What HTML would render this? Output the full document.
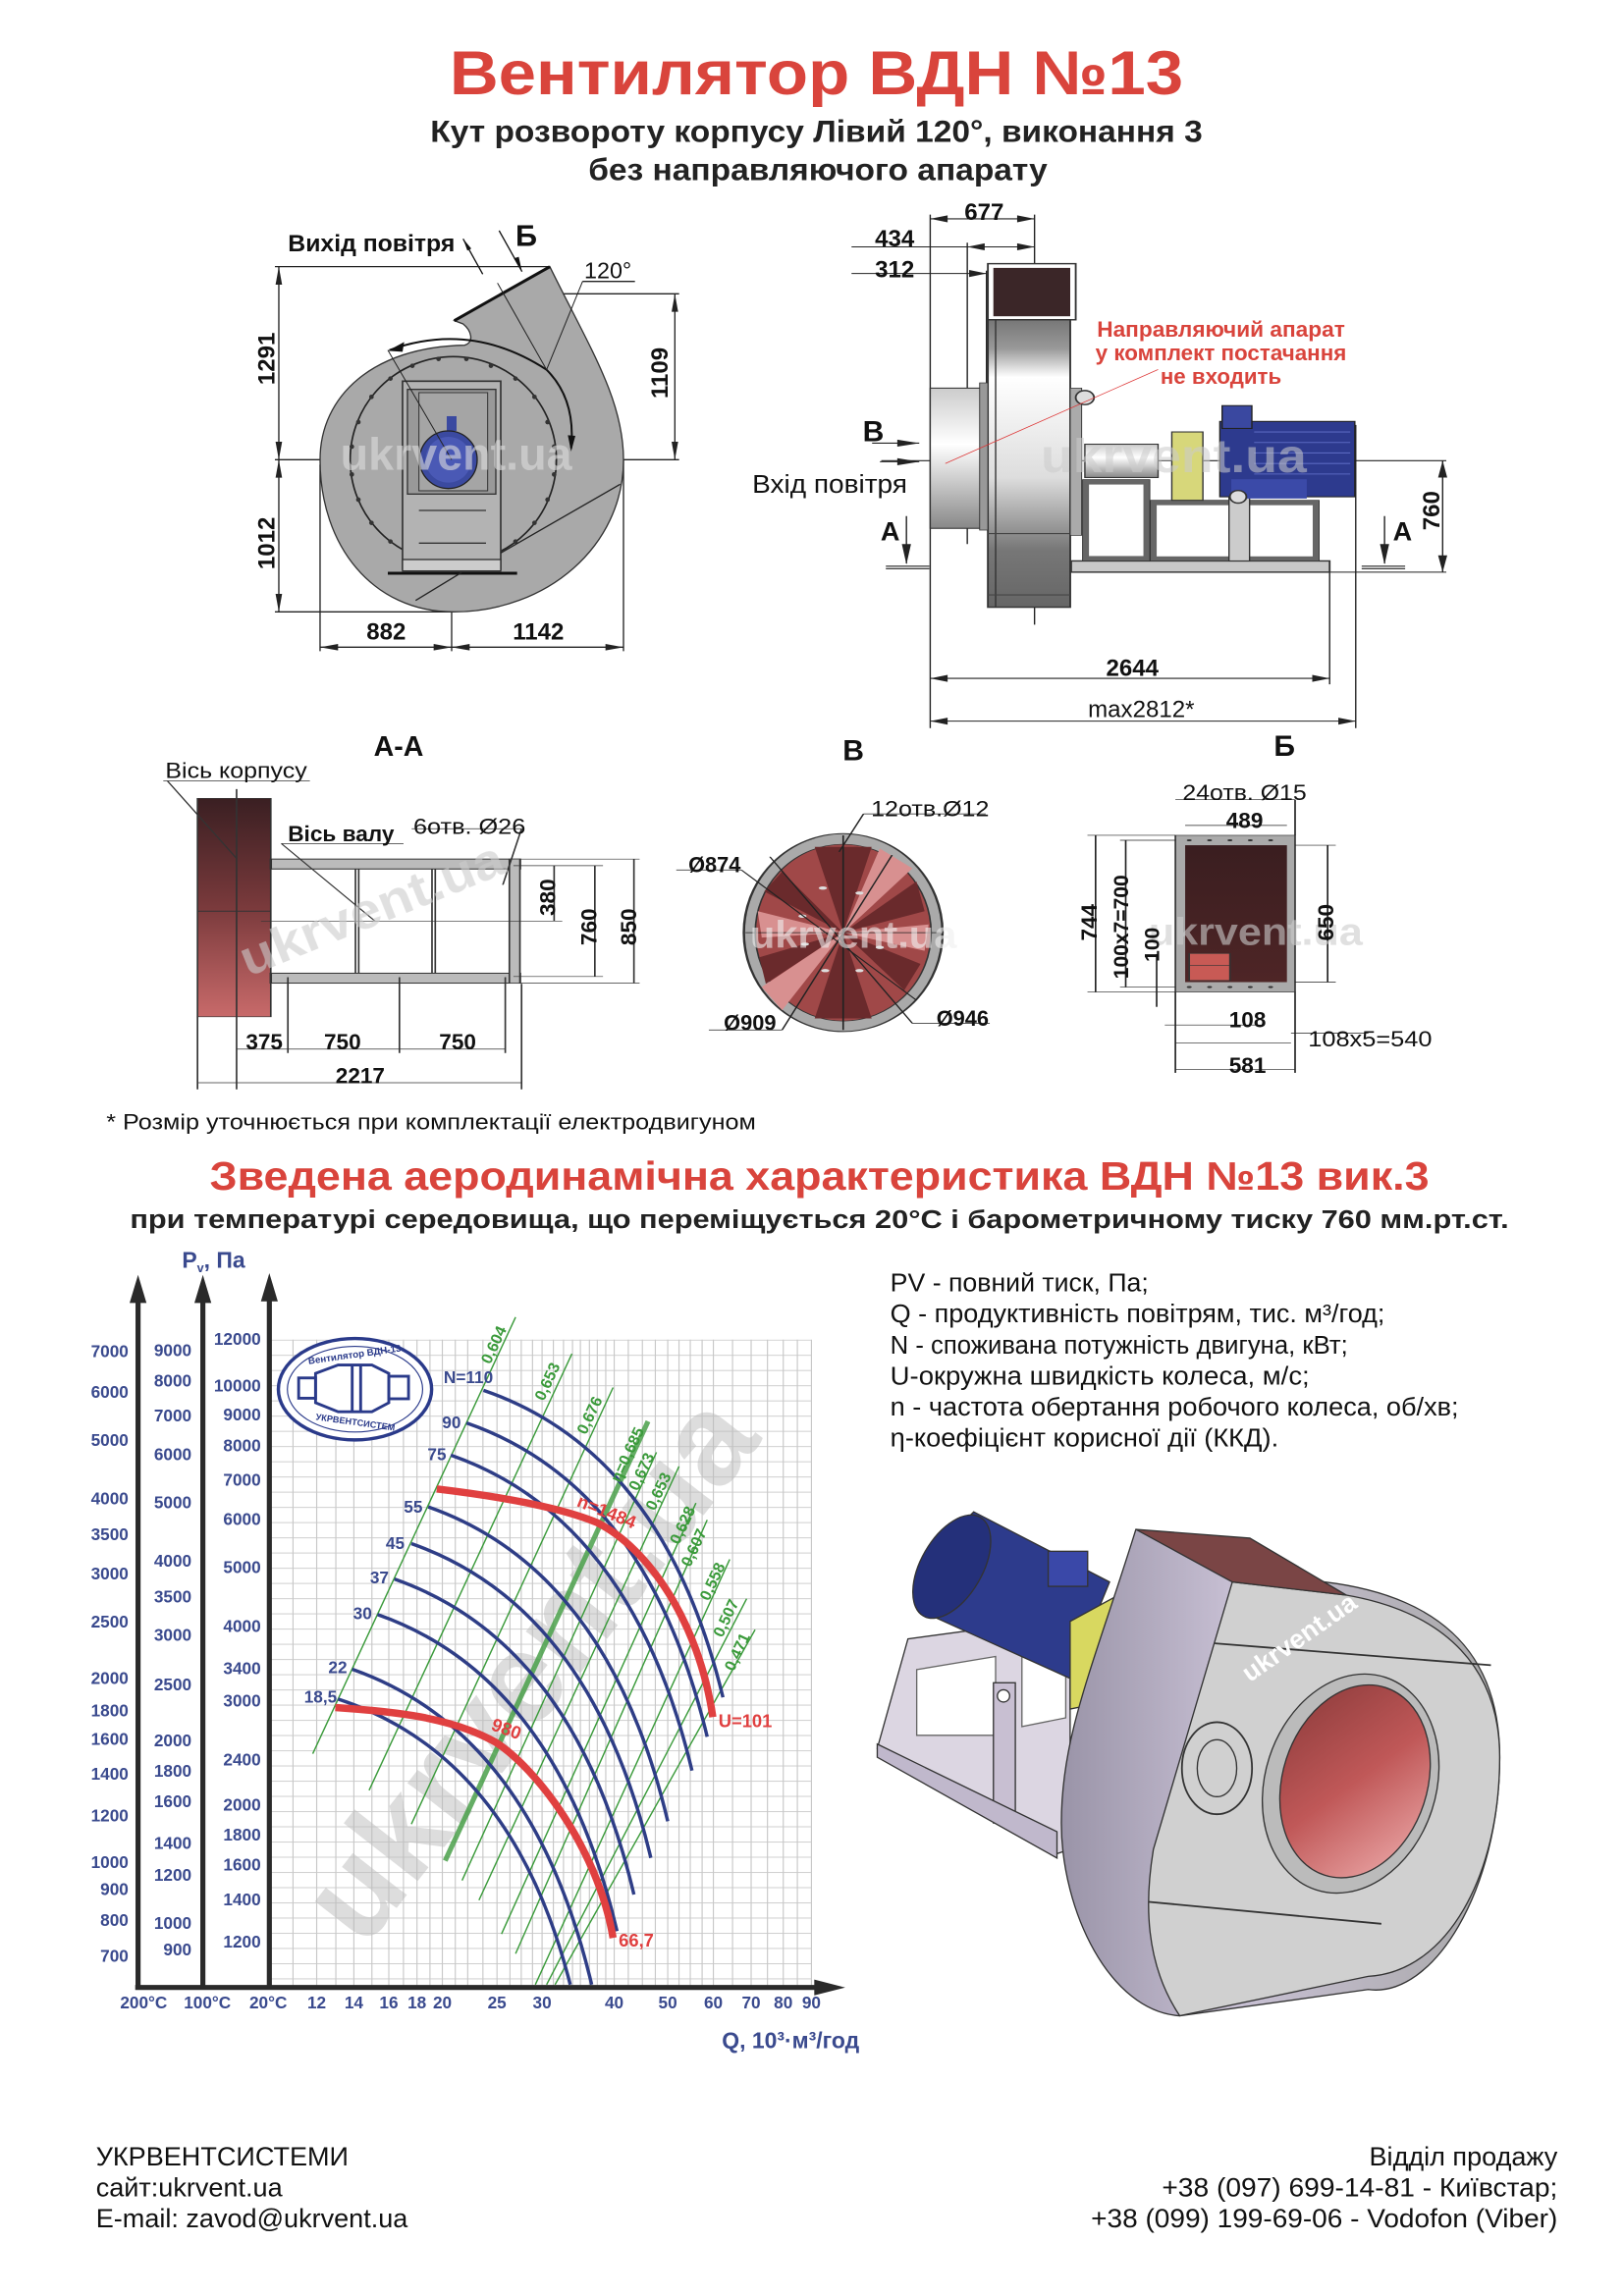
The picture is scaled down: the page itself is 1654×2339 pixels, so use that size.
<!DOCTYPE html>
<html><head><meta charset="utf-8"><style>
html,body{margin:0;padding:0;background:#fff}
svg{display:block}
text{font-family:"Liberation Sans Narrow","Liberation Sans",sans-serif}
.b{font-weight:bold}
.w{font-family:"Liberation Sans",sans-serif}
</style></head><body>
<svg width="1654" height="2339" viewBox="0 0 1100 1555.6" preserveAspectRatio="none" xmlns="http://www.w3.org/2000/svg">
<defs>
<linearGradient id="gBody" x1="0" y1="0" x2="0" y2="1"><stop offset="0" stop-color="#777"/><stop offset="0.1" stop-color="#999"/><stop offset="0.2" stop-color="#fff"/><stop offset="0.55" stop-color="#ddd"/><stop offset="0.8" stop-color="#777"/><stop offset="1" stop-color="#666"/></linearGradient>
<linearGradient id="gInlet" x1="0" y1="0" x2="0" y2="1"><stop offset="0" stop-color="#ccc"/><stop offset="0.4" stop-color="#fff"/><stop offset="1" stop-color="#888"/></linearGradient>
<linearGradient id="gRed" x1="0" y1="0" x2="0" y2="1"><stop offset="0" stop-color="#3a1f22"/><stop offset="0.5" stop-color="#7a3a3c"/><stop offset="1" stop-color="#c86a6a"/></linearGradient>
<linearGradient id="gDark" x1="0" y1="0" x2="0" y2="1"><stop offset="0" stop-color="#3a1e20"/><stop offset="1" stop-color="#4e2526"/></linearGradient>
<linearGradient id="gInner" x1="0" y1="0" x2="1" y2="1"><stop offset="0" stop-color="#8a3a3a"/><stop offset="0.5" stop-color="#c05858"/><stop offset="1" stop-color="#f0b0b0"/></linearGradient>
<linearGradient id="gSide" x1="0" y1="0" x2="1" y2="0"><stop offset="0" stop-color="#9a94a8"/><stop offset="0.4" stop-color="#c8c0d4"/><stop offset="1" stop-color="#a8a8a8"/></linearGradient>
</defs>

<!-- Titles -->
<text x="553" y="64" text-anchor="middle" class="b w" font-size="42" fill="#d9443c" textLength="497" lengthAdjust="spacingAndGlyphs">Вентилятор  ВДН №13</text>
<text x="553" y="96" text-anchor="middle" class="b" font-size="21" fill="#222" textLength="523" lengthAdjust="spacingAndGlyphs">Кут розвороту корпусу Лівий 120°, виконання 3</text>
<text x="554" y="122" text-anchor="middle" class="b" font-size="21" fill="#222" textLength="311" lengthAdjust="spacingAndGlyphs">без направляючого апарату</text>

<!-- Top-left front view (zoom5 coords) -->
<g transform="translate(186.2,146.3) scale(0.2217)">
<g stroke="#222" stroke-width="4" fill="none">
<line x1="0" y1="155" x2="840" y2="155"/>
<line x1="0" y1="745" x2="1235" y2="745"/>
<line x1="0" y1="1210" x2="545" y2="1210"/>
<line x1="845" y1="238" x2="1235" y2="238"/>
<line x1="12" y1="155" x2="12" y2="1210"/>
<line x1="1222" y1="238" x2="1222" y2="745"/>
<line x1="138" y1="760" x2="138" y2="1330"/>
<line x1="540" y1="400" x2="540" y2="1330"/>
<line x1="1065" y1="745" x2="1065" y2="1330"/>
<line x1="138" y1="1318" x2="1065" y2="1318"/>
<line x1="940" y1="200" x2="1100" y2="200"/>
</g>
<g fill="#222">
<polygon points="12,155 2,210 22,210"/><polygon points="12,745 2,690 22,690"/>
<polygon points="12,745 2,800 22,800"/><polygon points="12,1210 2,1155 22,1155"/>
<polygon points="1222,238 1212,293 1232,293"/><polygon points="1222,745 1212,690 1232,690"/>
<polygon points="138,1318 193,1308 193,1328"/><polygon points="540,1318 485,1308 485,1328"/>
<polygon points="540,1318 595,1308 595,1328"/><polygon points="1065,1318 1010,1308 1010,1328"/>
</g>
<path d="M548,320 L840,155 C960,400 1065,560 1065,745 C1065,1010 830,1210 545,1210 C300,1210 138,1010 138,745 C138,550 300,400 580,395 C610,385 600,350 575,330 Z" fill="#a9a9a9" stroke="#333" stroke-width="4"/>
<line x1="548" y1="320" x2="840" y2="155" stroke="#111" stroke-width="9"/>
<circle cx="545" cy="745" r="315" fill="none" stroke="#222" stroke-width="5"/>
<g fill="#333"><circle cx="500" cy="437" r="7"/><circle cx="585" cy="437" r="7"/><circle cx="660" cy="458" r="7"/><circle cx="735" cy="497" r="7"/><circle cx="793" cy="553" r="7"/><circle cx="833" cy="630" r="7"/><circle cx="853" cy="705" r="7"/><circle cx="853" cy="790" r="7"/><circle cx="833" cy="867" r="7"/><circle cx="793" cy="938" r="7"/><circle cx="735" cy="995" r="7"/><circle cx="420" cy="458" r="7"/><circle cx="353" cy="497" r="7"/><circle cx="295" cy="553" r="7"/><circle cx="255" cy="630" r="7"/><circle cx="235" cy="705" r="7"/><circle cx="235" cy="790" r="7"/><circle cx="255" cy="867" r="7"/><circle cx="295" cy="938" r="7"/><circle cx="353" cy="995" r="7"/></g>
<path d="M350,410 Q600,320 830,470 Q920,560 905,710" fill="none" stroke="#111" stroke-width="6"/>
<polygon points="345,412 395,385 390,415" fill="#111"/><polygon points="905,720 895,670 918,672" fill="#111"/>
<rect x="390" y="505" width="300" height="575" fill="#b3b3b3" stroke="#333" stroke-width="5"/>
<rect x="405" y="530" width="270" height="320" fill="#999" stroke="#333" stroke-width="4"/>
<rect x="440" y="540" width="210" height="300" fill="#a5a5a5" stroke="#333" stroke-width="3"/>
<line x1="440" y1="900" x2="645" y2="900" stroke="#333" stroke-width="4"/><line x1="440" y1="1000" x2="645" y2="1000" stroke="#333" stroke-width="4"/>
<rect x="525" y="612" width="30" height="45" fill="#3a49a0"/>
<circle cx="530" cy="745" r="88" fill="#3b4aa0" stroke="#222" stroke-width="4"/>
<circle cx="530" cy="745" r="70" fill="#4a59b5"/>
<rect x="390" y="1050" width="300" height="35" fill="#ccc" stroke="#333" stroke-width="4"/>
<line x1="345" y1="1092" x2="740" y2="1092" stroke="#111" stroke-width="9"/>
<line x1="430" y1="1175" x2="570" y2="1090" stroke="#222" stroke-width="4"/>
<line x1="690" y1="1030" x2="1055" y2="820" stroke="#222" stroke-width="4"/>
<line x1="345" y1="410" x2="540" y2="745" stroke="#222" stroke-width="3"/>
<line x1="680" y1="205" x2="830" y2="470" stroke="#222" stroke-width="3"/>
<line x1="830" y1="470" x2="940" y2="200" stroke="#222" stroke-width="3"/>
<line x1="575" y1="70" x2="635" y2="178" stroke="#111" stroke-width="4"/><polygon points="575,70 600,100 588,106" fill="#111"/>
<line x1="685" y1="45" x2="755" y2="170" stroke="#111" stroke-width="4"/><polygon points="755,170 730,130 745,125" fill="#111"/>
<text x="200" y="775" font-size="140" class="b w" fill="#ddd" opacity="0.6">ukrvent.ua</text>
<text x="40" y="108" font-size="72" class="b w" fill="#111" textLength="510" lengthAdjust="spacingAndGlyphs">Вихід повітря</text>
<text x="735" y="92" font-size="92" class="b w" fill="#111">Б</text>
<text x="945" y="190" font-size="70" class="w" fill="#111">120°</text>
<text x="340" y="1295" font-size="72" class="b w" fill="#111" text-anchor="middle">882</text>
<text x="805" y="1295" font-size="72" class="b w" fill="#111" text-anchor="middle">1142</text>
<text transform="translate(1200,480) rotate(-90)" font-size="72" class="b w" fill="#111" text-anchor="middle">1109</text>
</g>
<text transform="translate(186,243) rotate(-90)" font-size="16" class="b w" fill="#111" text-anchor="middle">1291</text>
<text transform="translate(186,368) rotate(-90)" font-size="16" class="b w" fill="#111" text-anchor="middle">1012</text>

<!-- Top-right side view (zoom6 coords, non-uniform) -->
<g transform="translate(505.5,126.4) scale(0.3099,0.2375)">
<g stroke="#222" stroke-width="3" fill="none">
<line x1="402" y1="80" x2="402" y2="1545"/><line x1="630" y1="80" x2="630" y2="1250"/>
<line x1="483" y1="160" x2="483" y2="1020"/><line x1="525" y1="240" x2="525" y2="980"/>
<line x1="402" y1="92" x2="630" y2="92"/><line x1="230" y1="172" x2="630" y2="172"/><line x1="230" y1="248" x2="525" y2="248"/>
<line x1="1275" y1="1100" x2="1275" y2="1420"/><line x1="1332" y1="680" x2="1332" y2="1545"/>
<line x1="402" y1="1403" x2="1275" y2="1403"/><line x1="402" y1="1525" x2="1332" y2="1525"/>
<line x1="295" y1="782" x2="1530" y2="782"/><line x1="1275" y1="1100" x2="1530" y2="1100"/>
<line x1="1522" y1="782" x2="1522" y2="1100"/>
<line x1="305" y1="1083" x2="400" y2="1083"/><line x1="305" y1="1090" x2="400" y2="1090"/>
<line x1="1345" y1="1083" x2="1440" y2="1083"/><line x1="1345" y1="1090" x2="1440" y2="1090"/>
<line x1="350" y1="940" x2="350" y2="1075"/><line x1="1395" y1="940" x2="1395" y2="1075"/>
<line x1="275" y1="732" x2="378" y2="732"/><line x1="292" y1="785" x2="378" y2="785"/>
</g>
<g fill="#222">
<polygon points="402,92 440,82 440,102"/><polygon points="630,92 592,82 592,102"/>
<polygon points="483,172 521,162 521,182"/><polygon points="630,172 592,162 592,182"/>
<polygon points="525,248 487,238 487,258"/>
<polygon points="402,1403 440,1393 440,1413"/><polygon points="1275,1403 1237,1393 1237,1413"/>
<polygon points="402,1525 440,1515 440,1535"/><polygon points="1332,1525 1294,1515 1294,1535"/>
<polygon points="1522,782 1512,830 1532,830"/><polygon points="1522,1100 1512,1052 1532,1052"/>
<polygon points="350,1078 340,1020 360,1020"/><polygon points="1395,1078 1385,1020 1405,1020"/>
<polygon points="378,732 330,722 330,742"/><polygon points="378,785 330,775 330,795"/>
</g>
<rect x="528" y="220" width="192" height="160" fill="#fff" stroke="#333" stroke-width="4"/>
<rect x="540" y="232" width="168" height="138" fill="#3b2628"/>
<rect x="528" y="380" width="180" height="820" fill="url(#gBody)" stroke="#333" stroke-width="4"/>
<line x1="545" y1="380" x2="545" y2="1200" stroke="#333" stroke-width="3"/>
<line x1="528" y1="990" x2="708" y2="990" stroke="#444" stroke-width="3"/><line x1="528" y1="1165" x2="708" y2="1165" stroke="#444" stroke-width="3"/>
<rect x="402" y="575" width="118" height="400" fill="url(#gInlet)" stroke="#333" stroke-width="3"/>
<rect x="510" y="560" width="18" height="420" fill="#999" stroke="#333" stroke-width="2"/>
<rect x="708" y="575" width="25" height="420" fill="#aaa" stroke="#333" stroke-width="2"/>
<circle cx="740" cy="602" r="20" fill="#ddd" stroke="#333" stroke-width="4"/>
<rect x="710" y="1068" width="565" height="32" fill="#c8c8c8" stroke="#333" stroke-width="4"/>
<g fill="none" stroke="#666" stroke-width="14">
<rect x="742" y="843" width="133" height="218"/>
<rect x="890" y="902" width="355" height="160"/>
</g>
<g fill="none" stroke="#333" stroke-width="2">
<rect x="735" y="836" width="147" height="232"/><rect x="883" y="895" width="369" height="173"/>
</g>
<rect x="1055" y="880" width="45" height="188" fill="#ccc" stroke="#333" stroke-width="3"/>
<rect x="740" y="735" width="160" height="95" fill="url(#gInlet)" stroke="#333" stroke-width="3"/>
<rect x="930" y="700" width="68" height="195" fill="#d7d77a" stroke="#333" stroke-width="3"/>
<rect x="1035" y="670" width="295" height="215" fill="#2d3a8e" stroke="#222" stroke-width="3"/>
<rect x="1040" y="625" width="65" height="65" fill="#3a48a0" stroke="#222" stroke-width="3"/>
<rect x="1060" y="835" width="165" height="55" fill="#3b4aa8"/>
<g stroke="#5a68c0" stroke-width="3"><line x1="1110" y1="700" x2="1320" y2="700"/><line x1="1110" y1="730" x2="1320" y2="730"/><line x1="1110" y1="760" x2="1320" y2="760"/><line x1="1110" y1="790" x2="1320" y2="790"/><line x1="1110" y1="820" x2="1320" y2="820"/></g>
<circle cx="1075" cy="885" r="18" fill="#ddd" stroke="#333" stroke-width="4"/>
<line x1="435" y1="790" x2="900" y2="522" stroke="#d33" stroke-width="2"/>
</g>
<text x="705" y="320" font-size="32" class="b w" fill="#ccc" opacity="0.55" textLength="180" lengthAdjust="spacingAndGlyphs">ukrvent.ua</text>
<g class="b" fill="#111">
<text x="666.6" y="149" font-size="16" text-anchor="middle">677</text>
<text x="606" y="167" font-size="16" text-anchor="middle">434</text>
<text x="606" y="188" font-size="16" text-anchor="middle">312</text>
<text x="591.6" y="299" font-size="20" text-anchor="middle" class="w">В</text>
<text x="562" y="334" font-size="17" text-anchor="middle" font-weight="normal" class="w" textLength="105" lengthAdjust="spacingAndGlyphs">Вхід повітря</text>
<text x="603" y="366" font-size="18" text-anchor="middle" class="w">А</text>
<text x="950" y="366" font-size="18" text-anchor="middle" class="w">А</text>
<text transform="translate(975,346) rotate(-90)" font-size="16" text-anchor="middle" class="w">760</text>
<text x="767" y="458" font-size="16" text-anchor="middle">2644</text>
<text x="773" y="486" font-size="16" text-anchor="middle" font-weight="normal">max2812*</text>
</g>
<g class="b" fill="#d9443c" font-size="14.5" text-anchor="middle">
<text x="827" y="228" textLength="168" lengthAdjust="spacingAndGlyphs">Направляючий апарат</text>
<text x="827" y="244" textLength="170" lengthAdjust="spacingAndGlyphs">у комплект постачання</text>
<text x="827" y="260" textLength="82" lengthAdjust="spacingAndGlyphs">не входить</text>
</g>

<!-- Sections row (zoom3 coords, non-uniform) -->
<g transform="translate(66.5,492.2) scale(0.5515,0.2235)">
<rect x="122" y="218" width="90" height="662" fill="url(#gRed)" stroke="#333" stroke-width="2"/>
<line x1="122" y1="560" x2="212" y2="560" stroke="#333" stroke-width="3"/>
<rect x="212" y="432" width="298" height="316" fill="#fff" stroke="#333" stroke-width="2"/>
<rect x="212" y="402" width="306" height="30" fill="#bbb" stroke="#333" stroke-width="3"/>
<rect x="212" y="748" width="306" height="30" fill="#bbb" stroke="#333" stroke-width="3"/>
<rect x="505" y="402" width="13" height="376" fill="#bbb" stroke="#333" stroke-width="2"/>
<g stroke="#333" stroke-width="2"><line x1="316" y1="432" x2="316" y2="748"/><line x1="320" y1="432" x2="320" y2="748"/><line x1="410" y1="432" x2="410" y2="748"/><line x1="414" y1="432" x2="414" y2="748"/>
<line x1="170" y1="190" x2="170" y2="1100"/><line x1="122" y1="880" x2="122" y2="1100"/><line x1="233" y1="760" x2="233" y2="990"/><line x1="370" y1="760" x2="370" y2="990"/><line x1="500" y1="760" x2="500" y2="990"/><line x1="520" y1="780" x2="520" y2="1100"/>
<line x1="170" y1="978" x2="500" y2="978"/><line x1="122" y1="1080" x2="520" y2="1080"/>
<line x1="518" y1="402" x2="665" y2="402"/><line x1="510" y1="422" x2="620" y2="422"/><line x1="510" y1="758" x2="620" y2="758"/><line x1="518" y1="778" x2="665" y2="778"/><line x1="200" y1="590" x2="570" y2="590"/>
<line x1="560" y1="422" x2="560" y2="590"/><line x1="610" y1="422" x2="610" y2="758"/><line x1="658" y1="402" x2="658" y2="778"/>
<line x1="80" y1="165" x2="260" y2="165"/><line x1="85" y1="165" x2="170" y2="400"/>
<line x1="225" y1="355" x2="375" y2="355"/><line x1="225" y1="355" x2="340" y2="590"/>
<line x1="385" y1="310" x2="520" y2="310"/><line x1="520" y1="310" x2="497" y2="480"/>
</g>
<!-- В -->
<ellipse cx="915" cy="625" rx="122" ry="300" fill="#aaa" stroke="#333" stroke-width="3"/>
<ellipse cx="915" cy="625" rx="108" ry="268" fill="#a04848" stroke="#333" stroke-width="2"/>
<g fill="#6a2a2c">
<path d="M915,625 L880,365 L950,365 Z"/><path d="M915,625 L1005,470 L1015,560 Z"/><path d="M915,625 L1010,720 L990,800 Z"/><path d="M915,625 L950,885 L880,885 Z"/><path d="M915,625 L820,780 L812,700 Z"/><path d="M915,625 L818,500 L840,440 Z"/>
</g>
<g fill="#d89090"><path d="M915,625 L960,370 L1000,430 Z"/><path d="M915,625 L1020,600 L1015,680 Z"/><path d="M915,625 L840,860 L815,790 Z"/><path d="M915,625 L810,560 L815,640 Z"/></g>
<g fill="#ddd"><circle cx="890" cy="490" r="5"/><circle cx="935" cy="505" r="5"/><circle cx="865" cy="575" r="5"/><circle cx="960" cy="670" r="5"/><circle cx="893" cy="740" r="5"/><circle cx="935" cy="740" r="5"/><circle cx="868" cy="660" r="5"/></g>
<g stroke="#222" stroke-width="2"><line x1="915" y1="330" x2="915" y2="920"/><line x1="795" y1="625" x2="1035" y2="625"/>
<line x1="940" y1="265" x2="1090" y2="265"/><line x1="940" y1="265" x2="910" y2="380"/>
<line x1="710" y1="435" x2="790" y2="435"/><line x1="790" y1="435" x2="1005" y2="830"/>
<line x1="750" y1="920" x2="840" y2="920"/><line x1="840" y1="920" x2="975" y2="390"/>
<line x1="1000" y1="900" x2="1095" y2="900"/><line x1="1000" y1="900" x2="825" y2="395"/></g>
<!-- Б -->
<rect x="1323" y="330" width="147" height="475" fill="#aaa" stroke="#333" stroke-width="2"/>
<rect x="1335" y="360" width="125" height="415" fill="url(#gDark)"/>
<rect x="1340" y="688" width="50" height="82" fill="#c85a55" stroke="#333" stroke-width="2"/>
<line x1="1340" y1="725" x2="1390" y2="725" stroke="#333" stroke-width="2"/>
<g fill="#333"><circle cx="1340" cy="345" r="3"/><circle cx="1365" cy="345" r="3"/><circle cx="1390" cy="345" r="3"/><circle cx="1415" cy="345" r="3"/><circle cx="1440" cy="345" r="3"/><circle cx="1340" cy="790" r="3"/><circle cx="1365" cy="790" r="3"/><circle cx="1390" cy="790" r="3"/><circle cx="1415" cy="790" r="3"/><circle cx="1440" cy="790" r="3"/></g>
<g stroke="#222" stroke-width="2"><line x1="1225" y1="330" x2="1225" y2="805"/><line x1="1262" y1="345" x2="1262" y2="790"/><line x1="1300" y1="690" x2="1300" y2="850"/><line x1="1510" y1="360" x2="1510" y2="775"/>
<line x1="1215" y1="330" x2="1323" y2="330"/><line x1="1215" y1="805" x2="1323" y2="805"/><line x1="1255" y1="345" x2="1323" y2="345"/><line x1="1255" y1="790" x2="1323" y2="790"/><line x1="1470" y1="360" x2="1520" y2="360"/><line x1="1470" y1="775" x2="1520" y2="775"/>
<line x1="1310" y1="905" x2="1430" y2="905"/><line x1="1323" y1="960" x2="1465" y2="960"/><line x1="1323" y1="1040" x2="1470" y2="1040"/><line x1="1323" y1="222" x2="1470" y2="222"/><line x1="1335" y1="300" x2="1460" y2="300"/>
<line x1="1323" y1="805" x2="1323" y2="1050"/><line x1="1470" y1="805" x2="1470" y2="1050"/><line x1="1470" y1="222" x2="1470" y2="330"/><line x1="1465" y1="930" x2="1560" y2="930"/></g>
</g>
<g class="b w" fill="#ccc" opacity="0.6">
<text x="0" y="0" font-size="34" transform="translate(168,662) rotate(-22)" textLength="190" lengthAdjust="spacingAndGlyphs">ukrvent.ua</text>
<text x="508" y="642" font-size="26" textLength="140" lengthAdjust="spacingAndGlyphs" fill="#eee">ukrvent.ua</text>
<text x="778" y="640" font-size="26" textLength="145" lengthAdjust="spacingAndGlyphs">ukrvent.ua</text>
</g>
<g class="b" fill="#111">
<text x="270" y="512" font-size="19" text-anchor="middle" class="w">А-А</text>
<text x="578" y="515" font-size="20" text-anchor="middle" class="w">В</text>
<text x="870" y="512" font-size="20" text-anchor="middle" class="w">Б</text>
<text x="160" y="527" font-size="14.5" text-anchor="middle" font-weight="normal" textLength="96" lengthAdjust="spacingAndGlyphs">Вісь корпусу</text>
<text x="231" y="570" font-size="15" text-anchor="middle" textLength="72" lengthAdjust="spacingAndGlyphs">Вісь валу</text>
<text x="318" y="565" font-size="15" text-anchor="middle" font-weight="normal" textLength="76" lengthAdjust="spacingAndGlyphs">6отв. Ø26</text>
<text transform="translate(376,608) rotate(-90)" font-size="15" text-anchor="middle" class="w">380</text>
<text transform="translate(404,628) rotate(-90)" font-size="15" text-anchor="middle" class="w">760</text>
<text transform="translate(431,628) rotate(-90)" font-size="15" text-anchor="middle" class="w">850</text>
<text x="179" y="711" font-size="15" text-anchor="middle">375</text>
<text x="232" y="711" font-size="15" text-anchor="middle">750</text>
<text x="310" y="711" font-size="15" text-anchor="middle">750</text>
<text x="244" y="734" font-size="15" text-anchor="middle">2217</text>
<text x="630" y="553" font-size="14.5" text-anchor="middle" font-weight="normal" textLength="80" lengthAdjust="spacingAndGlyphs">12отв.Ø12</text>
<text x="484" y="591" font-size="14.5" text-anchor="middle">Ø874</text>
<text x="508" y="698" font-size="14.5" text-anchor="middle">Ø909</text>
<text x="652" y="695" font-size="14.5" text-anchor="middle">Ø946</text>
<text x="843" y="542" font-size="14.5" text-anchor="middle" font-weight="normal" textLength="84" lengthAdjust="spacingAndGlyphs">24отв. Ø15</text>
<text x="843" y="561" font-size="15" text-anchor="middle">489</text>
<text transform="translate(743,625) rotate(-90)" font-size="15" text-anchor="middle" class="w">744</text>
<text transform="translate(764,628) rotate(-90)" font-size="14" text-anchor="middle" class="w">100x7=700</text>
<text transform="translate(785,640) rotate(-90)" font-size="14" text-anchor="middle" class="w">100</text>
<text transform="translate(903,625) rotate(-90)" font-size="15" text-anchor="middle" class="w">650</text>
<text x="845" y="696" font-size="15" text-anchor="middle">108</text>
<text x="886" y="709" font-size="15" font-weight="normal" textLength="84" lengthAdjust="spacingAndGlyphs">108x5=540</text>
<text x="845" y="727" font-size="15" text-anchor="middle">581</text>
</g>
<text x="72" y="765" font-size="15" fill="#111" textLength="440" lengthAdjust="spacingAndGlyphs">* Розмір уточнюється при комплектації електродвигуном</text>

<!-- Chart headings -->
<text x="555" y="806" text-anchor="middle" class="b w" font-size="27" fill="#d9443c" textLength="826" lengthAdjust="spacingAndGlyphs">Зведена аеродинамічна характеристика ВДН №13 вик.3</text>
<text x="555" y="832" text-anchor="middle" class="b w" font-size="17" fill="#222" textLength="934" lengthAdjust="spacingAndGlyphs">при температурі середовища, що переміщується 20°С і барометричному тиску 760 мм.рт.ст.</text>

<!-- Chart (zoom2 coords) -->
<g transform="translate(0,831.3) scale(0.38168)">
<defs><pattern id="hg" x="0" y="200" width="40" height="27" patternUnits="userSpaceOnUse"><line x1="0" y1="0.5" x2="40" y2="0.5" stroke="#c8c8c8" stroke-width="2"/></pattern></defs>
<rect x="480" y="200" width="960" height="1150" fill="url(#hg)"/>
<path d="M480 200V1350M520 200V1350M562 200V1350M596 200V1350M628 200V1350M660 200V1350M690 200V1350M716 200V1350M740 200V1350M763 200V1350M785 200V1350M808 200V1350M830 200V1350M857 200V1350M882 200V1350M905 200V1350M925 200V1350M945 200V1350M962 200V1350M982 200V1350M1000 200V1350M1016 200V1350M1030 200V1350M1046 200V1350M1060 200V1350M1075 200V1350M1090 200V1350M1115 200V1350M1140 200V1350M1163 200V1350M1185 200V1350M1205 200V1350M1225 200V1350M1246 200V1350M1266 200V1350M1300 200V1350M1333 200V1350M1362 200V1350M1390 200V1350M1415 200V1350M1440 200V1350" stroke="#c8c8c8" stroke-width="2"/>
<text x="0" y="0" font-size="230" class="b w" fill="#bbb" opacity="0.5" transform="translate(1000,830) rotate(-52)" text-anchor="middle" textLength="1150" lengthAdjust="spacingAndGlyphs">ukrvent.ua</text>
<!-- green efficiency lines -->
<g stroke="#3a9a3a" stroke-width="2.5">
<line x1="555" y1="935" x2="915" y2="160"/><line x1="655" y1="1000" x2="1015" y2="225"/><line x1="730" y1="1060" x2="1088" y2="285"/>
<line x1="820" y1="1160" x2="1165" y2="400"/><line x1="850" y1="1195" x2="1205" y2="425"/><line x1="890" y1="1255" x2="1235" y2="490"/>
<line x1="915" y1="1290" x2="1255" y2="520"/><line x1="950" y1="1345" x2="1295" y2="590"/><line x1="970" y1="1345" x2="1325" y2="660"/><line x1="985" y1="1345" x2="1340" y2="715"/>
</g>
<line x1="790" y1="1125" x2="1150" y2="345" stroke="#4aa04a" stroke-width="9" opacity="0.85"/>
<!-- blue N curves -->
<g fill="none" stroke="#2e3d86" stroke-width="6">
<path d="M858,290 Q1177,399 1283,835"/><path d="M828,348 Q1148,459 1255,905"/><path d="M800,405 Q1121,517 1228,965"/>
<path d="M760,497 Q1079,609 1185,1055"/><path d="M730,562 Q1049,674 1155,1120"/><path d="M700,625 Q1019,737 1125,1185"/>
<path d="M670,688 Q989,800 1095,1250"/><path d="M625,785 Q944,897 1050,1345"/><path d="M600,838 Q909,939 1012,1345"/>
</g>
<!-- red curves -->
<g fill="none" stroke="#e04040" stroke-width="13">
<path d="M775,465 C900,480 1000,500 1060,525 C1150,570 1240,700 1265,870"/>
<path d="M595,853 C700,860 800,870 880,915 C950,960 1060,1100 1088,1262"/>
</g>
<!-- axes -->
<g stroke="#2a2a2a" stroke-width="9"><line x1="245" y1="120" x2="245" y2="1350"/><line x1="360" y1="120" x2="360" y2="1350"/><line x1="478" y1="120" x2="478" y2="1350"/><line x1="240" y1="1350" x2="1450" y2="1350"/></g>
<g fill="#2a2a2a"><polygon points="245,85 230,135 260,135"/><polygon points="360,85 345,135 375,135"/><polygon points="478,82 463,132 493,132"/><polygon points="1500,1350 1445,1336 1445,1364"/></g>
<g class="b w" font-size="30" fill="#3a4a8e" text-anchor="end">
<text x="228" y="231">7000</text><text x="228" y="303">6000</text><text x="228" y="389">5000</text><text x="228" y="492">4000</text><text x="228" y="556">3500</text><text x="228" y="626">3000</text><text x="228" y="711">2500</text><text x="228" y="811">2000</text><text x="228" y="869">1800</text><text x="228" y="919">1600</text><text x="228" y="981">1400</text><text x="228" y="1055">1200</text><text x="228" y="1138">1000</text><text x="228" y="1186">900</text><text x="228" y="1241">800</text><text x="228" y="1304">700</text>
<text x="340" y="229">9000</text><text x="340" y="283">8000</text><text x="340" y="345">7000</text><text x="340" y="414">6000</text><text x="340" y="499">5000</text><text x="340" y="603">4000</text><text x="340" y="667">3500</text><text x="340" y="735">3000</text><text x="340" y="823">2500</text><text x="340" y="922">2000</text><text x="340" y="976">1800</text><text x="340" y="1030">1600</text><text x="340" y="1104">1400</text><text x="340" y="1161">1200</text><text x="340" y="1246">1000</text><text x="340" y="1293">900</text>
<text x="463" y="209">12000</text><text x="463" y="292">10000</text><text x="463" y="343">9000</text><text x="463" y="398">8000</text><text x="463" y="459">7000</text><text x="463" y="529">6000</text><text x="463" y="614">5000</text><text x="463" y="719">4000</text><text x="463" y="794">3400</text><text x="463" y="851">3000</text><text x="463" y="956">2400</text><text x="463" y="1036">2000</text><text x="463" y="1089">1800</text><text x="463" y="1142">1600</text><text x="463" y="1204">1400</text><text x="463" y="1279">1200</text>
</g>
<g class="b w" font-size="30" fill="#3a4a8e" text-anchor="middle">
<text x="255" y="1387">200°C</text><text x="368" y="1387">100°C</text><text x="476" y="1387">20°C</text><text x="562" y="1387">12</text><text x="628" y="1387">14</text><text x="690" y="1387">16</text><text x="740" y="1387">18</text><text x="785" y="1387">20</text><text x="882" y="1387">25</text><text x="962" y="1387">30</text><text x="1090" y="1387">40</text><text x="1185" y="1387">50</text><text x="1266" y="1387">60</text><text x="1333" y="1387">70</text><text x="1390" y="1387">80</text><text x="1440" y="1387">90</text>
</g>
<g class="b w" font-size="30" fill="#3a4a8e" text-anchor="end">
<text x="875" y="277">N=110</text><text x="818" y="357">90</text><text x="792" y="414">75</text><text x="750" y="507">55</text><text x="718" y="572">45</text><text x="690" y="633">37</text><text x="660" y="696">30</text><text x="616" y="792">22</text><text x="598" y="844">18,5</text>
</g>
<g class="b w" font-size="28" fill="#3a9a3a">
<text transform="translate(870,245) rotate(-65)">0,604</text><text transform="translate(965,310) rotate(-65)">0,653</text><text transform="translate(1040,370) rotate(-65)">0,676</text>
<text transform="translate(1100,455) rotate(-65)">η=0,685</text><text transform="translate(1132,470) rotate(-65)">0,673</text><text transform="translate(1162,505) rotate(-65)">0,653</text>
<text transform="translate(1205,565) rotate(-65)">0,628</text><text transform="translate(1225,605) rotate(-65)">0,607</text><text transform="translate(1258,665) rotate(-65)">0,558</text>
<text transform="translate(1282,730) rotate(-65)">0,507</text><text transform="translate(1302,790) rotate(-65)">0,471</text>
</g>
<g class="b w" font-size="32" fill="#e04040">
<text transform="translate(1022,495) rotate(22)">n=1484</text>
<text transform="translate(870,892) rotate(20)">980</text>
<text x="1275" y="888">U=101</text><text x="1098" y="1277">66,7</text>
</g>
<ellipse cx="630" cy="288" rx="136" ry="90" fill="#fff" stroke="#2a3a8a" stroke-width="6"/>
<ellipse cx="630" cy="288" rx="120" ry="76" fill="none" stroke="#2a3a8a" stroke-width="2"/>
<g fill="none" stroke="#2a3a8a" stroke-width="5"><rect x="530" y="268" width="30" height="36"/><path d="M560,260 L600,245 L660,245 L690,260 L690,312 L660,328 L600,328 L560,312 Z"/><rect x="690" y="265" width="35" height="40"/><line x1="625" y1="245" x2="625" y2="328"/><line x1="640" y1="245" x2="640" y2="328"/></g>
<text x="630" y="232" text-anchor="middle" class="b w" font-size="17" fill="#2a3a8a" transform="rotate(-8 630 232)">Вентилятор ВДН-13</text>
<text x="630" y="352" text-anchor="middle" class="b w" font-size="16" fill="#2a3a8a" transform="rotate(8 630 352)">УКРВЕНТСИСТЕМ</text>
<text x="435" y="72" text-anchor="end" class="b w" font-size="40" fill="#3a4a8e">P<tspan font-size="22" dy="8">v</tspan><tspan dy="-8">, Па</tspan></text>
<text x="1525" y="1458" text-anchor="end" class="b w" font-size="40" fill="#3a4a8e">Q, 10³·м³/год</text>
</g>

<!-- Legend -->
<g font-size="17" fill="#111" class="w">
<text x="603" y="875" textLength="175" lengthAdjust="spacingAndGlyphs">PV - повний тиск, Па;</text>
<text x="603" y="896" textLength="335" lengthAdjust="spacingAndGlyphs">Q - продуктивність повітрям, тис. м³/год;</text>
<text x="603" y="917" textLength="310" lengthAdjust="spacingAndGlyphs">N - споживана потужність двигуна, кВт;</text>
<text x="603" y="938" textLength="284" lengthAdjust="spacingAndGlyphs">U-окружна швидкість колеса, м/с;</text>
<text x="603" y="959" textLength="385" lengthAdjust="spacingAndGlyphs">n - частота обертання робочого колеса, об/хв;</text>
<text x="603" y="980" textLength="263" lengthAdjust="spacingAndGlyphs">η-коефіцієнт корисної дії (ККД).</text>
</g>

<!-- 3D fan (zoom4 coords) -->
<g transform="translate(585.3,997.6) scale(0.2969)" stroke="#333" stroke-width="3">
<polygon points="30,630 100,380 470,330 470,860 440,870 40,640" fill="#dcd6e2"/>
<g fill="#fff" stroke="#666"><polygon points="120,450 300,420 300,600 120,600"/><polygon points="360,410 460,400 460,560 360,580"/></g>
<rect x="295" y="480" width="50" height="320" fill="#c8bfd2"/>
<circle cx="318" cy="510" r="14" fill="#fff"/>
<polygon points="30,620 440,820 440,880 30,650" fill="#c0b8cc"/>
<path d="M140,200 L250,90 L560,250 L470,470 L160,330 Z" fill="#2d3b8c"/>
<ellipse cx="200" cy="215" rx="70" ry="130" fill="#24307a" transform="rotate(30 200 215)"/>
<rect x="420" y="180" width="90" height="80" fill="#3a48a8"/>
<polygon points="470,340 580,280 570,520 470,540" fill="#d8d860"/>
<path d="M620,130 L1050,250 C1300,280 1450,400 1450,650 C1450,950 1300,1200 1150,1180 L720,1240 C560,1230 450,1000 450,800 C450,600 520,450 620,130 Z" fill="url(#gSide)"/>
<path d="M840,250 L1100,280 C1330,320 1450,450 1450,650 C1450,920 1330,1140 1150,1150 L720,1240 C640,1120 640,980 660,860 L840,250 Z" fill="#d0d0d0"/>
<polygon points="620,130 880,150 1100,280 840,250" fill="#7a4545"/>
<line x1="650" y1="980" x2="1180" y2="1030" stroke-width="4"/><line x1="800" y1="390" x2="1430" y2="440" stroke-width="4"/>
<ellipse cx="1110" cy="710" rx="195" ry="255" transform="rotate(18 1110 710)" fill="#bbb"/>
<ellipse cx="1120" cy="705" rx="165" ry="225" transform="rotate(18 1120 705)" fill="url(#gInner)"/>
<ellipse cx="805" cy="675" rx="80" ry="105" fill="none" stroke-width="4"/>
<ellipse cx="805" cy="675" rx="45" ry="65" fill="none" stroke-width="3"/>
<text x="880" y="480" font-size="60" class="b w" fill="#fff" stroke="none" transform="rotate(-35 880 480)">ukrvent.ua</text>
</g>

<!-- Footer -->
<g font-size="18" fill="#111" class="w">
<text x="65" y="1467">УКРВЕНТСИСТЕМИ</text>
<text x="65" y="1488">сайт:ukrvent.ua</text>
<text x="65" y="1509">E-mail: zavod@ukrvent.ua</text>
<text x="1055" y="1467" text-anchor="end">Відділ продажу</text>
<text x="1055" y="1488" text-anchor="end" textLength="268" lengthAdjust="spacingAndGlyphs">+38 (097) 699-14-81 - Київстар;</text>
<text x="1055" y="1509" text-anchor="end" textLength="316" lengthAdjust="spacingAndGlyphs">+38 (099) 199-69-06 - Vodofon (Viber)</text>
</g>
</svg>
</body></html>
